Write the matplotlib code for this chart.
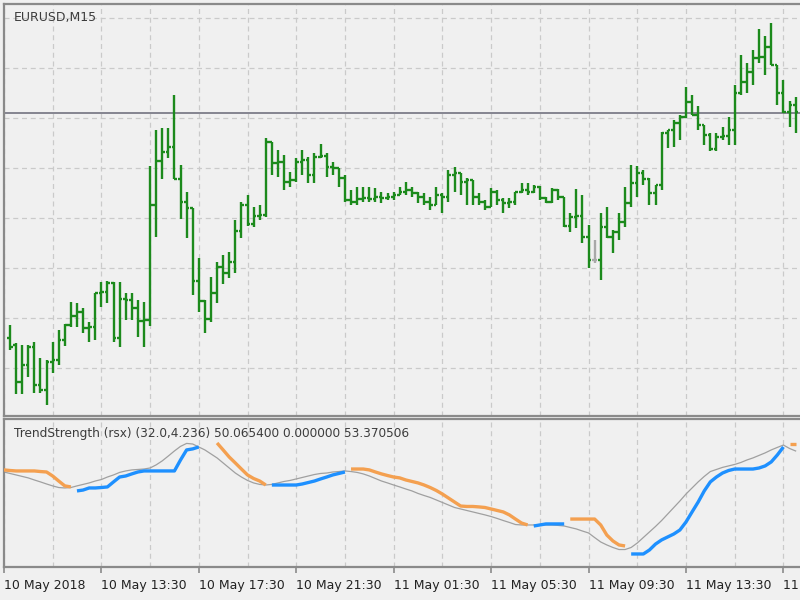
import matplotlib
matplotlib.use("Agg")
import matplotlib.pyplot as plt
import numpy as np

# ---- price bars (EURUSD M15), bar index 1..130 ----
opens = [1.19060, 1.19046, 1.18972, 1.19006, 1.19042, 1.18966, 1.18956, 1.19012, 1.19016, 1.19056,
         1.19086, 1.19104, 1.19112, 1.19080, 1.19082, 1.19150, 1.19152, 1.19170, 1.19060, 1.19138,
         1.19136, 1.19120, 1.19094, 1.19096, 1.19326, 1.19414, 1.19432, 1.19442, 1.19378, 1.19332,
         1.19320, 1.19174, 1.19134, 1.19098, 1.19150, 1.19202, 1.19190, 1.19212, 1.19274, 1.19326,
         1.19288, 1.19304, 1.19306, 1.19452, 1.19410, 1.19412, 1.19372, 1.19376, 1.19412, 1.19416,
         1.19386, 1.19422, 1.19424, 1.19402, 1.19400, 1.19380, 1.19336, 1.19332, 1.19338, 1.19340,
         1.19338, 1.19342, 1.19340, 1.19342, 1.19346, 1.19352, 1.19356, 1.19350, 1.19342, 1.19332,
         1.19326, 1.19346, 1.19342, 1.19386, 1.19390, 1.19372, 1.19376, 1.19342, 1.19332, 1.19322,
         1.19352, 1.19336, 1.19330, 1.19332, 1.19352, 1.19356, 1.19352, 1.19362, 1.19340, 1.19332,
         1.19356, 1.19342, 1.19284, 1.19302, 1.19304, 1.19262, 1.19216, 1.19216, 1.19282, 1.19262,
         1.19272, 1.19292, 1.19330, 1.19370, 1.19390, 1.19378, 1.19350, 1.19366, 1.19470, 1.19476,
         1.19490, 1.19502, 1.19532, 1.19506, 1.19486, 1.19466, 1.19438, 1.19462, 1.19464, 1.19476,
         1.19550, 1.19572, 1.19592, 1.19620, 1.19622, 1.19642, 1.19606, 1.19550, 1.19512, 1.19526]
highs = [1.19086, 1.19050, 1.19046, 1.19046, 1.19052, 1.19020, 1.19016, 1.19052, 1.19076, 1.19088,
         1.19132, 1.19130, 1.19120, 1.19092, 1.19150, 1.19172, 1.19174, 1.19172, 1.19172, 1.19150,
         1.19150, 1.19136, 1.19132, 1.19404, 1.19476, 1.19480, 1.19480, 1.19546, 1.19406, 1.19352,
         1.19320, 1.19220, 1.19136, 1.19182, 1.19212, 1.19226, 1.19232, 1.19296, 1.19332, 1.19346,
         1.19322, 1.19326, 1.19460, 1.19452, 1.19436, 1.19426, 1.19392, 1.19420, 1.19436, 1.19422,
         1.19430, 1.19448, 1.19430, 1.19412, 1.19400, 1.19386, 1.19356, 1.19362, 1.19362, 1.19362,
         1.19360, 1.19352, 1.19350, 1.19352, 1.19362, 1.19372, 1.19362, 1.19352, 1.19350, 1.19342,
         1.19362, 1.19350, 1.19396, 1.19402, 1.19390, 1.19380, 1.19376, 1.19350, 1.19336, 1.19360,
         1.19356, 1.19340, 1.19340, 1.19352, 1.19370, 1.19370, 1.19366, 1.19364, 1.19342, 1.19360,
         1.19358, 1.19342, 1.19310, 1.19358, 1.19346, 1.19286, 1.19256, 1.19310, 1.19322, 1.19276,
         1.19310, 1.19362, 1.19406, 1.19404, 1.19396, 1.19380, 1.19366, 1.19472, 1.19476, 1.19496,
         1.19506, 1.19562, 1.19546, 1.19524, 1.19486, 1.19470, 1.19470, 1.19482, 1.19502, 1.19566,
         1.19626, 1.19610, 1.19636, 1.19678, 1.19664, 1.19690, 1.19606, 1.19576, 1.19534, 1.19542]
lows = [1.19036, 1.18948, 1.18948, 1.18982, 1.18950, 1.18950, 1.18926, 1.18990, 1.19006, 1.19044,
        1.19082, 1.19082, 1.19070, 1.19052, 1.19056, 1.19122, 1.19130, 1.19052, 1.19042, 1.19096,
        1.19096, 1.19062, 1.19042, 1.19084, 1.19262, 1.19378, 1.19420, 1.19378, 1.19298, 1.19260,
        1.19146, 1.19112, 1.19070, 1.19092, 1.19130, 1.19168, 1.19180, 1.19190, 1.19260, 1.19284,
        1.19282, 1.19296, 1.19302, 1.19386, 1.19382, 1.19356, 1.19362, 1.19372, 1.19386, 1.19370,
        1.19370, 1.19420, 1.19382, 1.19386, 1.19362, 1.19332, 1.19326, 1.19326, 1.19332, 1.19332,
        1.19332, 1.19330, 1.19336, 1.19336, 1.19346, 1.19346, 1.19342, 1.19330, 1.19326, 1.19316,
        1.19326, 1.19310, 1.19332, 1.19352, 1.19346, 1.19326, 1.19326, 1.19326, 1.19316, 1.19322,
        1.19326, 1.19310, 1.19320, 1.19326, 1.19350, 1.19346, 1.19350, 1.19336, 1.19330, 1.19330,
        1.19336, 1.19282, 1.19272, 1.19280, 1.19250, 1.19200, 1.19210, 1.19176, 1.19260, 1.19230,
        1.19256, 1.19282, 1.19322, 1.19342, 1.19366, 1.19326, 1.19326, 1.19356, 1.19440, 1.19442,
        1.19456, 1.19500, 1.19506, 1.19476, 1.19446, 1.19434, 1.19434, 1.19456, 1.19446, 1.19446,
        1.19546, 1.19550, 1.19566, 1.19610, 1.19586, 1.19606, 1.19526, 1.19510, 1.19482, 1.19470]
closes = [1.19042, 1.18972, 1.19006, 1.19042, 1.18966, 1.18956, 1.19012, 1.19016, 1.19056, 1.19086,
          1.19104, 1.19112, 1.19080, 1.19082, 1.19150, 1.19152, 1.19170, 1.19060, 1.19138, 1.19136,
          1.19120, 1.19094, 1.19096, 1.19326, 1.19414, 1.19432, 1.19442, 1.19378, 1.19332, 1.19320,
          1.19174, 1.19134, 1.19098, 1.19150, 1.19202, 1.19190, 1.19212, 1.19274, 1.19326, 1.19288,
          1.19304, 1.19306, 1.19452, 1.19410, 1.19412, 1.19372, 1.19376, 1.19412, 1.19416, 1.19386,
          1.19422, 1.19424, 1.19402, 1.19400, 1.19380, 1.19336, 1.19332, 1.19338, 1.19340, 1.19338,
          1.19342, 1.19340, 1.19342, 1.19346, 1.19352, 1.19356, 1.19350, 1.19342, 1.19332, 1.19326,
          1.19346, 1.19342, 1.19386, 1.19390, 1.19372, 1.19376, 1.19342, 1.19332, 1.19322, 1.19352,
          1.19336, 1.19330, 1.19332, 1.19352, 1.19356, 1.19352, 1.19362, 1.19340, 1.19332, 1.19356,
          1.19342, 1.19284, 1.19302, 1.19304, 1.19262, 1.19216, 1.19216, 1.19282, 1.19262, 1.19272,
          1.19292, 1.19330, 1.19370, 1.19390, 1.19378, 1.19350, 1.19366, 1.19470, 1.19476, 1.19490,
          1.19502, 1.19532, 1.19506, 1.19486, 1.19466, 1.19438, 1.19462, 1.19464, 1.19476, 1.19550,
          1.19572, 1.19592, 1.19620, 1.19622, 1.19642, 1.19606, 1.19550, 1.19512, 1.19526, 1.19512]
hline_price = 1.19510

# ---- TrendStrength (rsx) subwindow, bar index 0..130 ----
signal = [64.2, 63.2, 62.2, 61.2, 60.2, 58.8, 57.5, 56.1, 54.8, 53.7,
          53.4, 53.7, 54.8, 55.8, 56.8, 58.1, 59.1, 60.8, 62.2, 63.9,
          64.9, 65.6, 65.9, 66.2, 66.9, 69.0, 71.7, 75.0, 78.4, 81.5,
          83.5, 83.1, 81.1, 79.1, 76.4, 73.7, 70.3, 66.9, 63.5, 60.8,
          58.5, 56.8, 55.8, 55.4, 55.8, 56.8, 57.8, 58.5, 59.5, 60.5,
          61.5, 62.5, 63.2, 63.5, 64.2, 64.5, 64.9, 64.5, 63.9, 62.9,
          61.5, 59.8, 58.1, 56.8, 55.4, 54.1, 52.7, 51.4, 49.7, 48.3,
          47.0, 45.3, 43.6, 41.9, 40.2, 39.2, 38.2, 37.2, 36.2, 35.2,
          34.1, 32.8, 31.4, 30.1, 28.7, 28.4, 28.4, 28.4, 28.4, 28.4,
          28.4, 28.1, 27.7, 26.7, 25.7, 24.3, 23.0, 19.9, 16.9, 14.9,
          13.2, 11.8, 11.8, 13.2, 16.2, 19.9, 23.7, 27.4, 31.4, 35.8,
          40.2, 44.6, 49.3, 53.4, 57.5, 61.2, 64.5, 65.9, 67.3, 68.3,
          69.3, 70.6, 72.3, 73.7, 75.4, 77.1, 79.1, 80.8, 82.4, 80.1,
          78.4]
trend = [65.6, 65.2, 64.9, 64.9, 64.9, 64.9, 64.5, 64.2, 61.5, 58.1,
         54.8, 54.1, 51.4, 52.0, 53.4, 53.4, 53.7, 54.1, 57.5, 60.8,
         61.5, 62.9, 64.2, 64.9, 64.9, 64.9, 64.9, 64.9, 64.9, 72.3,
         79.1, 79.8, 81.1, np.nan, np.nan, 83.8, 79.1, 74.3, 70.3, 66.2,
         62.2, 59.8, 58.1, 55.4, 55.4, 55.4, 55.4, 55.4, 55.4, 56.1,
         57.1, 58.1, 59.5, 60.8, 62.2, 63.2, 64.2, 66.2, 66.2, 66.2,
         65.6, 64.2, 62.9, 61.8, 60.8, 60.2, 58.8, 57.8, 56.8, 55.4,
         53.7, 51.7, 49.3, 46.6, 43.9, 41.2, 40.9, 40.9, 40.6, 40.2,
         39.2, 38.2, 37.2, 35.2, 32.4, 29.7, 28.4, 27.7, 28.4, 29.1,
         29.1, 29.1, 29.1, 32.4, 32.4, 32.4, 32.4, 32.4, 28.4, 21.6,
         17.6, 14.9, 14.2, 8.8, 8.8, 8.8, 11.5, 15.5, 18.3, 20.3,
         22.3, 25.0, 30.4, 37.2, 43.9, 51.4, 57.5, 60.8, 63.5, 65.2,
         66.2, 66.2, 66.2, 66.2, 66.9, 68.3, 71.0, 75.7, 81.1, 83.1,
         83.1]
# (direction, first bar, last bar)
trend_segments = [("dn", 0, 11), ("up", 12, 32), ("dn", 35, 43), ("up", 44, 56),
                  ("dn", 57, 86), ("up", 87, 92), ("dn", 93, 102), ("up", 103, 128),
                  ("dn", 129, 130)]

time_labels = ["10 May 2018", "10 May 13:30", "10 May 17:30", "10 May 21:30",
               "11 May 01:30", "11 May 05:30", "11 May 09:30", "11 May 13:30",
               "11 May 17:30"]

BG = "#f0f0f0"
GRID = "#cacaca"
BORDER = "#8a8a8a"
BAR_GREEN = "#1c8a1c"
UP_BLUE = "#1e90ff"
DN_ORANGE = "#f4a050"

W, H = 800, 600
fig = plt.figure(figsize=(8, 6), dpi=100, facecolor=BG)

px_per_bar = 6.09
x0_px = 3.9
left_px = 3.5
xmin = (left_px - x0_px) / px_per_bar
xmax = (W - x0_px) / px_per_bar

ax = fig.add_axes([left_px / W, (H - 416) / H, (W - left_px) / W, 412 / H])
sub = fig.add_axes([left_px / W, (H - 567) / H, (W - left_px) / W, 148 / H])

for a in (ax, sub):
    a.set_facecolor(BG)
    a.set_xlim(xmin, xmax)
    for s in ("left", "top", "bottom"):
        a.spines[s].set_color(BORDER)
        a.spines[s].set_linewidth(1.6)
    a.spines["right"].set_visible(False)
    a.set_yticks([])
    for g in range(0, 131, 8):
        a.axvline(g, color=GRID, lw=0.9, ls=(0, (4, 3)), zorder=0)

# main chart
ax.set_ylim(1.18904, 1.19728)
ax.set_xticks([])
for p in np.arange(1.1900, 1.19705, 0.0010):
    ax.axhline(p, color=GRID, lw=0.9, ls=(0, (4, 3)), zorder=0)
ax.axhline(hline_price, color="#7c7c88", lw=1.3, zorder=1)

idx = np.arange(1, len(opens) + 1)
o = np.array(opens)
c = np.array(closes)
cols = np.where(np.isclose(o, c), "#a8a8a8", BAR_GREEN)
ax.vlines(idx, lows, highs, colors=cols, lw=1.7, zorder=3)
ax.hlines(o, idx - 0.45, idx, colors=cols, lw=1.7, zorder=3)
ax.hlines(c, idx, idx + 0.45, colors=cols, lw=1.7, zorder=3)

ax.text(10 / (W - left_px), 1 - 13 / 412, "EURUSD,M15", transform=ax.transAxes,
        fontsize=9, color="#3c3c3c", va="center", ha="left")

# indicator subwindow
sub.set_ylim(0, 100)
ti = np.arange(len(trend))
tv = np.array(trend)
sub.plot(ti, signal, color="#a0a0a0", lw=0.9, zorder=2)
for d, a0, a1 in trend_segments:
    sub.plot(ti[a0:a1 + 1], tv[a0:a1 + 1], color=UP_BLUE if d == "up" else DN_ORANGE,
             lw=2.4, solid_capstyle="butt", zorder=3)
sub.text(10 / (W - left_px), 1 - 15 / 148,
         "TrendStrength (rsx) (32.0,4.236) 50.065400 0.000000 53.370506",
         transform=sub.transAxes, fontsize=8.7, color="#3c3c3c", va="center", ha="left")

sub.set_xticks(np.arange(0, 129, 16))
sub.set_xticklabels(time_labels, fontsize=9, color="#222222", ha="left")
sub.tick_params(axis="x", direction="out", length=4, width=1.2, color=BORDER, pad=5)

fig.savefig("out.png", dpi=100, facecolor=BG)
